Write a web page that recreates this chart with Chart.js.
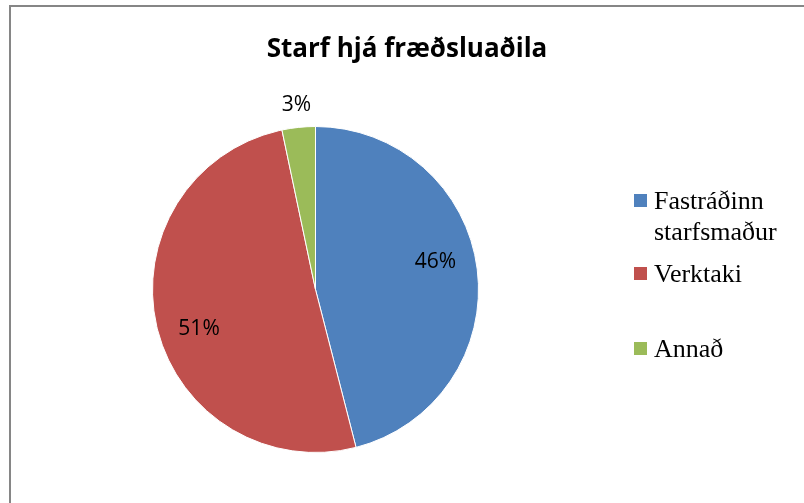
<!DOCTYPE html>
<html>
<head>
<meta charset="utf-8">
<script src="https://cdn.jsdelivr.net/npm/chart.js@4.4.1/dist/chart.umd.min.js"></script>
<style>
  body { margin: 0; background: #fff; }
  canvas { display: block; }
</style>
</head>
<body>
<canvas id="pieChart" width="804" height="503"></canvas>
<script>
const chartTitle = 'Starf hjá fræðsluaðila';
const categories = ['Fastráðinn\nstarfsmaður', 'Verktaki', 'Annað'];
const shares = [46, 50.7, 3.3];
const sliceColors = ['#4F81BD', '#C0504D', '#9BBB59'];

// title, border, percent labels and the legend drawn by hand (Excel look)
const excelDecor = {
  id: 'excelDecor',
  beforeDraw(chart) {
    const ctx = chart.ctx;
    ctx.save();
    ctx.fillStyle = '#fff';
    ctx.fillRect(0, 0, chart.width, chart.height);
    ctx.fillStyle = '#868686';
    ctx.fillRect(9, 5, chart.width - 9, 2);
    ctx.fillRect(9, 5, 2, chart.height - 5);
    ctx.restore();
  },
  afterDraw(chart) {
    const ctx = chart.ctx;
    const meta = chart.getDatasetMeta(0);
    const values = chart.data.datasets[0].data;
    const total = values.reduce((a, b) => a + b, 0);
    ctx.save();

    ctx.fillStyle = '#000';
    ctx.textAlign = 'center';
    ctx.textBaseline = 'alphabetic';
    ctx.font = 'bold 26px "Open Sans"';
    ctx.fillText(chartTitle, 407, 57);

    ctx.font = '21px "Open Sans"';
    ctx.textBaseline = 'middle';
    meta.data.forEach((arc, i) => {
      const p = arc.getProps(['x', 'y', 'startAngle', 'endAngle', 'outerRadius'], true);
      const share = values[i] / total;
      let mid = (p.startAngle + p.endAngle) / 2;
      let r;
      if (share < 0.1) {
        r = p.outerRadius + 22;
      } else {
        r = p.outerRadius * 0.755;
        mid -= 0.1;
      }
      const lx = p.x + Math.cos(mid) * r;
      const ly = p.y + Math.sin(mid) * r;
      ctx.fillText(Math.round(share * 100) + '%', lx, ly);
    });

    // legend
    const rowBaselines = [209, 282, 357];
    ctx.font = '26px "Liberation Serif"';
    ctx.textAlign = 'left';
    ctx.textBaseline = 'alphabetic';
    chart.data.labels.forEach((label, i) => {
      const base = rowBaselines[i];
      ctx.fillStyle = sliceColors[i];
      ctx.fillRect(634, base - 15, 13, 13);
      ctx.fillStyle = '#000';
      label.split('\n').forEach((line, j) => {
        ctx.fillText(line, 654, base + j * 31);
      });
    });
    ctx.restore();
  }
};

new Chart(document.getElementById('pieChart'), {
  type: 'pie',
  data: {
    labels: categories,
    datasets: [{
      data: shares,
      backgroundColor: sliceColors,
      borderColor: '#fff',
      borderWidth: 1,
      hoverOffset: 0
    }]
  },
  options: {
    responsive: false,
    animation: false,
    layout: { padding: { left: 152, right: 325, top: 126, bottom: 50 } },
    plugins: {
      legend: { display: false },
      title: { display: false },
      tooltip: { enabled: false }
    }
  },
  plugins: [excelDecor]
});
</script>
</body>
</html>
